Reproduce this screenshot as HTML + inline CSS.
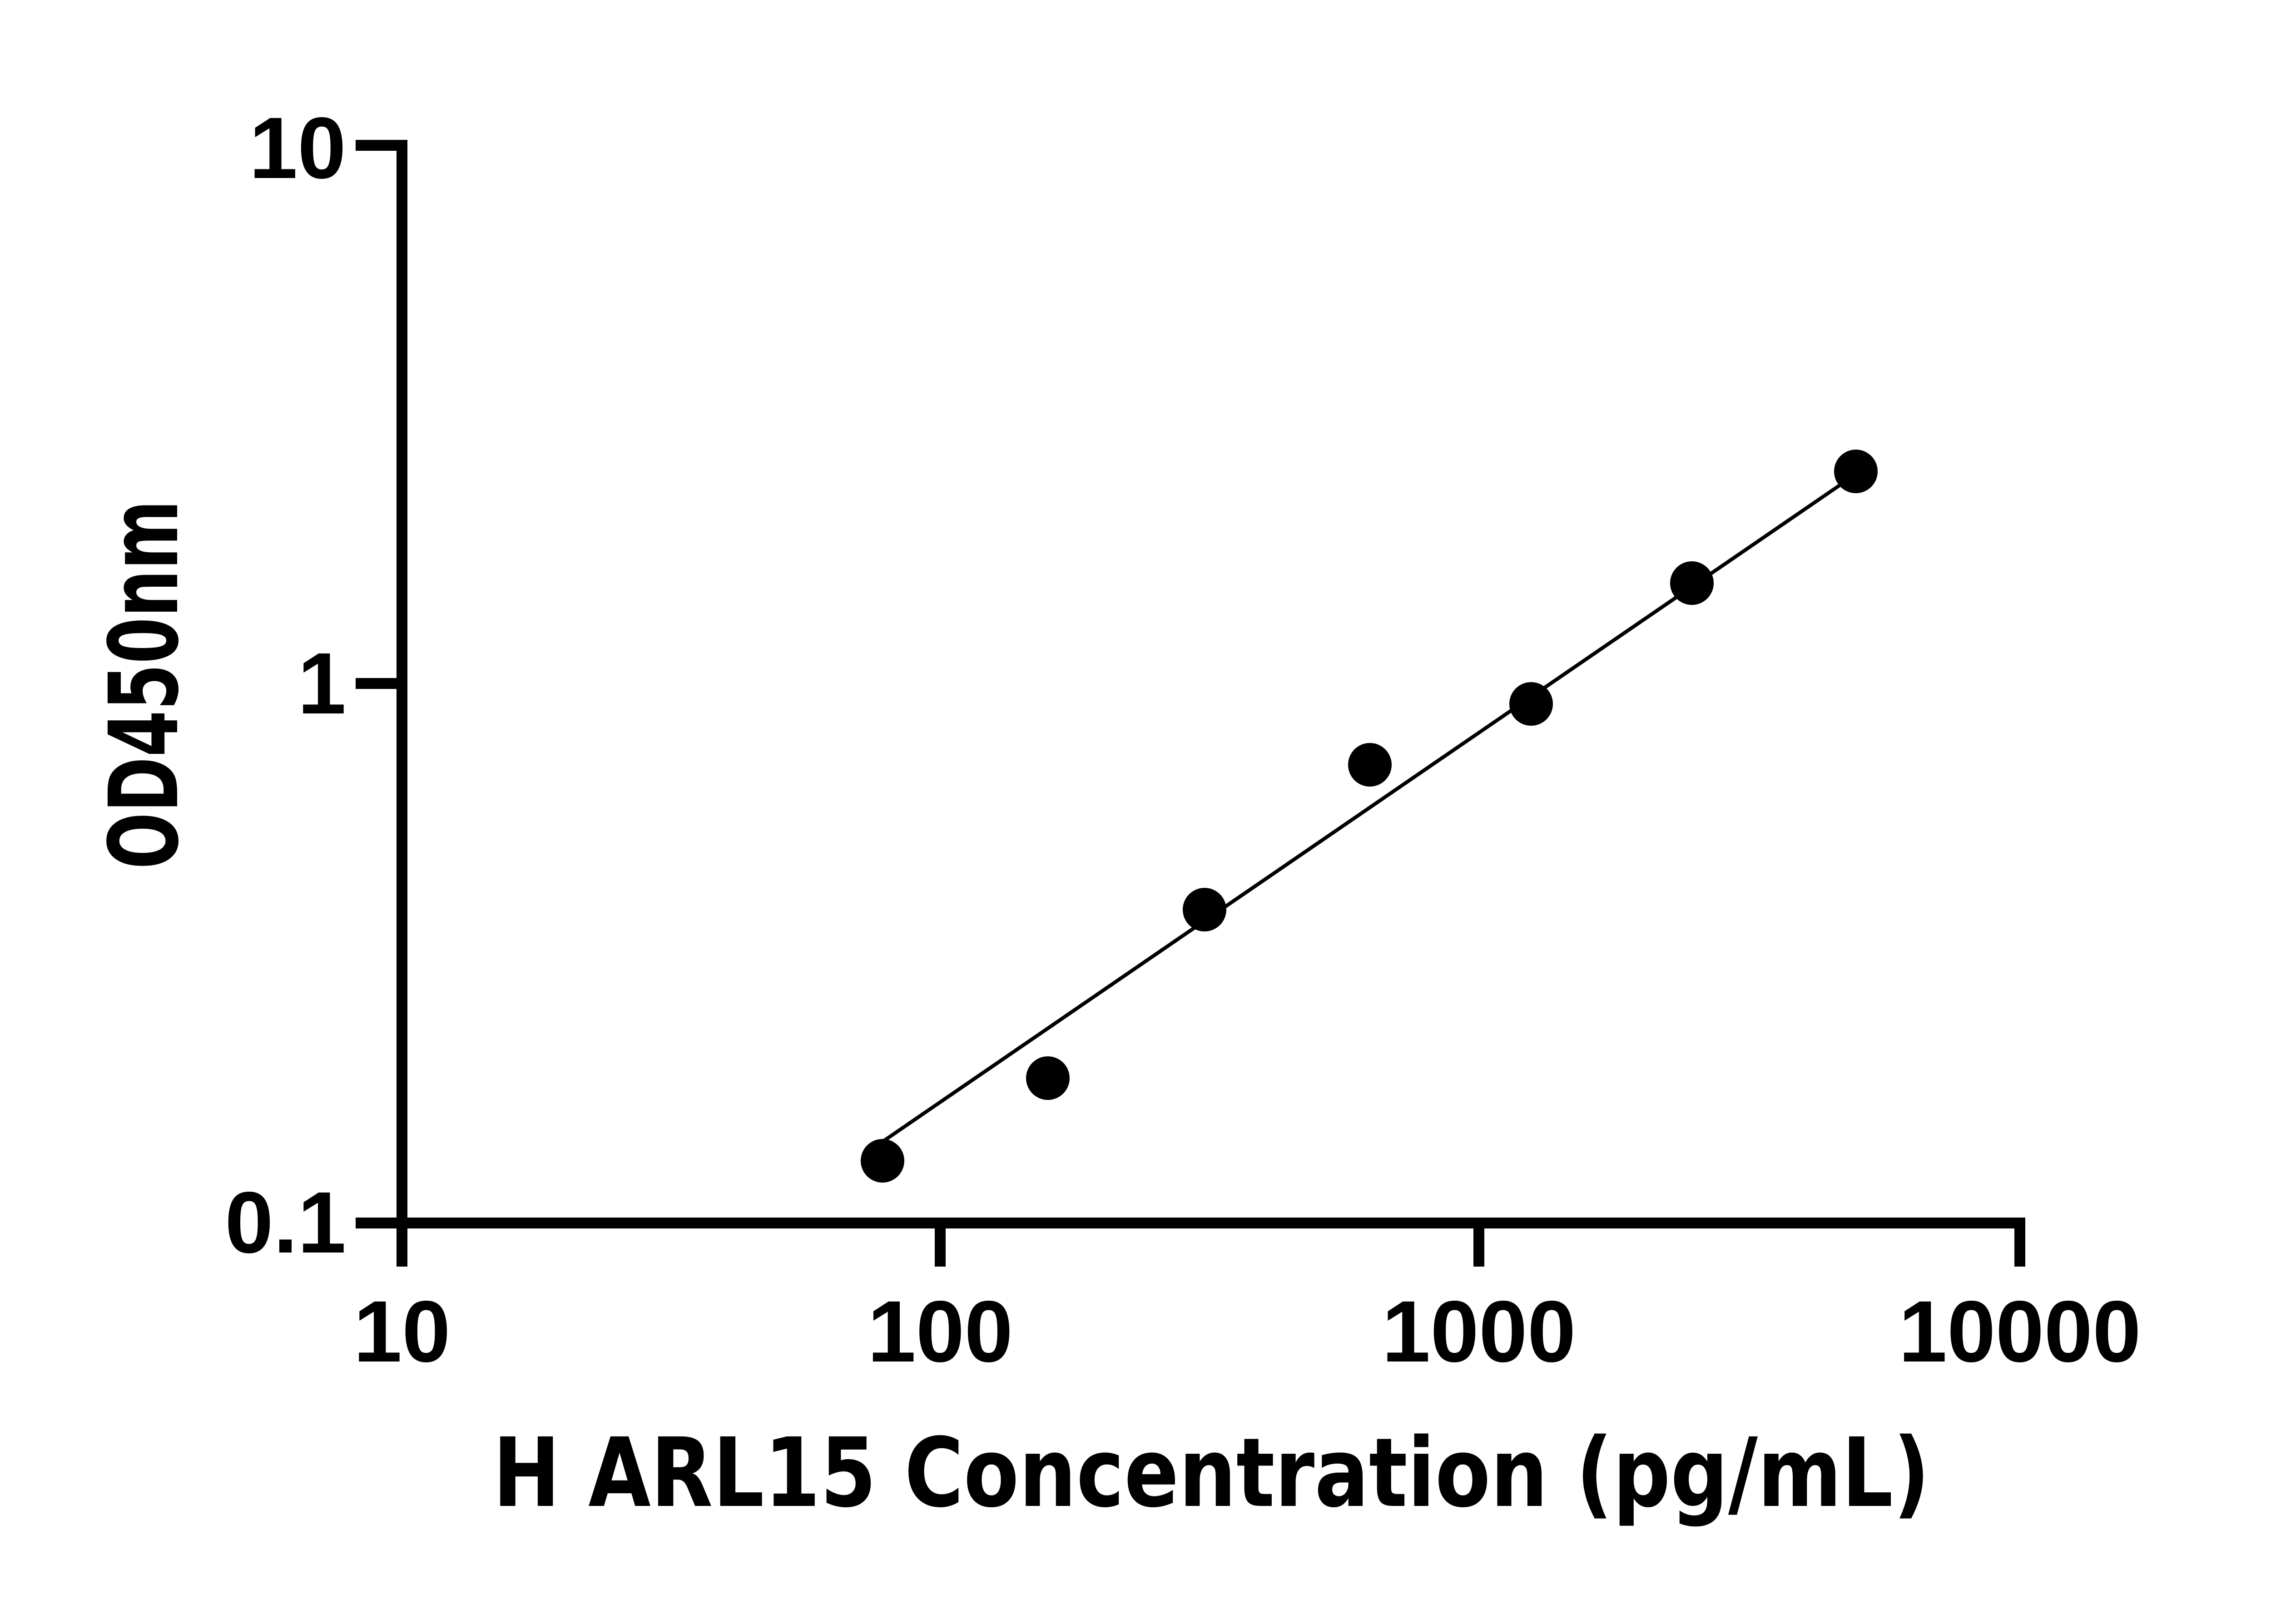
<!DOCTYPE html>
<html><head><meta charset="utf-8"><style>html,body{margin:0;padding:0;background:#fff}svg{display:block}</style></head>
<body>
<svg width="5070" height="3576" viewBox="0 0 5070 3576" xmlns="http://www.w3.org/2000/svg">
<rect width="5070" height="3576" fill="#fff"/>
<g stroke="#000" stroke-width="24" fill="none" stroke-linecap="butt">
<line x1="885" y1="308" x2="885" y2="2705"/>
<line x1="873" y1="2693" x2="4459" y2="2693"/>
<line x1="783" y1="320" x2="897" y2="320"/>
<line x1="783" y1="1505" x2="885" y2="1505"/>
<line x1="783" y1="2693" x2="885" y2="2693"/>
<line x1="885" y1="2693" x2="885" y2="2789"/>
<line x1="2070" y1="2693" x2="2070" y2="2789"/>
<line x1="3256" y1="2693" x2="3256" y2="2789"/>
<line x1="4447" y1="2681" x2="4447" y2="2789"/>
</g>
<line x1="1943" y1="2514" x2="4057" y2="1064" stroke="#000" stroke-width="8"/>
<g fill="#000">
<circle cx="1943" cy="2556" r="48"/>
<circle cx="2307" cy="2374" r="48"/>
<circle cx="2652" cy="2003" r="48"/>
<circle cx="3016" cy="1684" r="48"/>
<circle cx="3371" cy="1550" r="48"/>
<circle cx="3725" cy="1284" r="48"/>
<circle cx="4086" cy="1038" r="48"/>
</g>
<g font-family="Liberation Sans, Arial, sans-serif" font-weight="bold" font-size="192" fill="#000">
<text x="762" y="392" text-anchor="end">10</text>
<text x="762" y="1571" text-anchor="end">1</text>
<text x="762" y="2758" text-anchor="end">0.1</text>
<text x="885" y="2998" text-anchor="middle">10</text>
<text x="2070" y="2998" text-anchor="middle">100</text>
<text x="3256" y="2998" text-anchor="middle">1000</text>
<text x="4447" y="2998" text-anchor="middle">10000</text>
</g>
<g font-family="DejaVu Sans, Liberation Sans, sans-serif" font-weight="bold" font-size="210" fill="#000">
<text x="1085" y="3316" textLength="3164" lengthAdjust="spacingAndGlyphs">H ARL15 Concentration (pg/mL)</text>
<text transform="translate(390,1914) rotate(-90)" x="0" y="0" textLength="813" lengthAdjust="spacingAndGlyphs">OD450nm</text>
</g>
</svg>
</body></html>
